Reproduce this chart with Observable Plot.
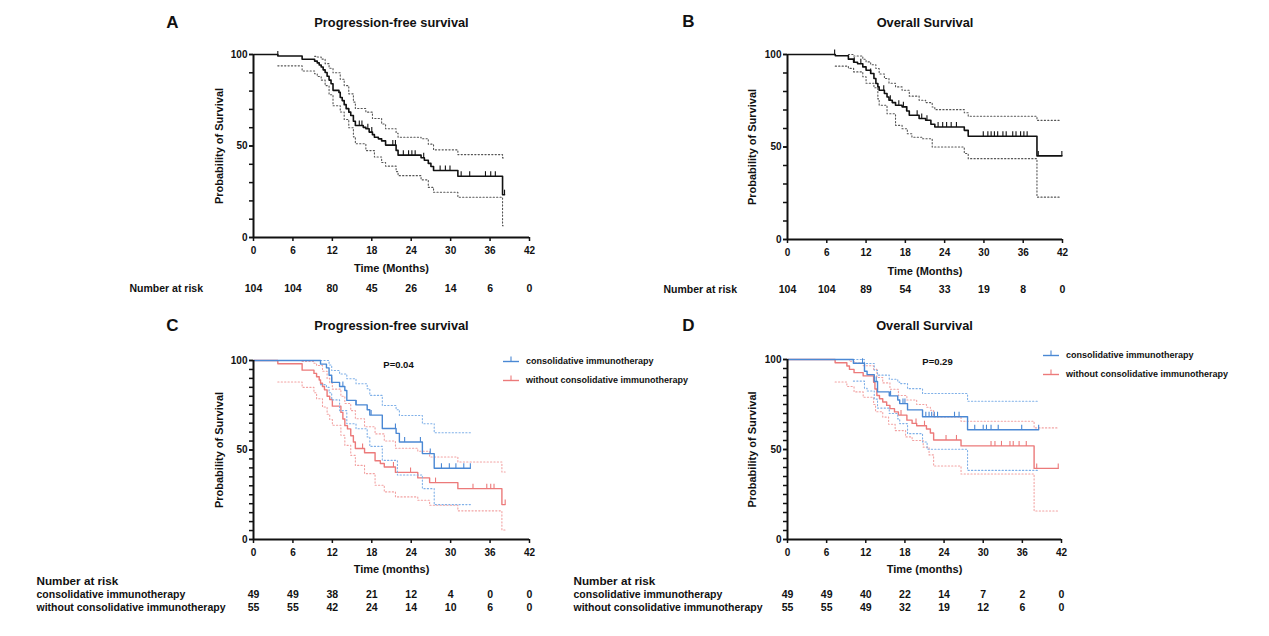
<!DOCTYPE html>
<html><head><meta charset="utf-8">
<script src="https://cdn.jsdelivr.net/npm/d3@7"></script>
<script src="https://cdn.jsdelivr.net/npm/@observablehq/plot@0.6"></script>
<style>
html,body{margin:0;padding:0;background:#fff;overflow:hidden;}
#root{position:relative;width:1269px;height:636px;background:#fff;font-family:"Liberation Sans",Arial,sans-serif;font-weight:bold;color:#111;}
.panel{position:absolute;}
.panel svg{overflow:visible;display:block;}
.lg{position:absolute;height:12px;display:flex;align-items:center;font-size:9px;font-weight:bold;white-space:nowrap;}
.lg span{margin-left:7px;}
</style></head>
<body><div id="root"></div>
<script>
// ---------- axis ticks & number at risk ----------
const months = [0, 6, 12, 18, 24, 30, 36, 42];
const yMajor = [0, 50, 100];
const yMinorAB = [0, 10, 20, 30, 40, 50, 60, 70, 80, 90, 100];
const yMinorCD = [0, 5, 10, 15, 20, 25, 30, 35, 40, 45, 50, 55, 60, 65, 70, 75, 80, 85, 90, 95, 100];
const riskA = [104, 104, 80, 45, 26, 14, 6, 0];
const riskB = [104, 104, 89, 54, 33, 19, 8, 0];
const riskCcon = [49, 49, 38, 21, 12, 4, 0, 0];
const riskCwo = [55, 55, 42, 24, 14, 10, 6, 0];
const riskDcon = [49, 49, 40, 22, 14, 7, 2, 0];
const riskDwo = [55, 55, 49, 32, 19, 12, 6, 0];
const groups = ["consolidative immunotherapy", "without consolidative immunotherapy"];

// ---------- A: PFS, all patients [month, % surviving] ----------
const pfsAll = [[0,100],[3.7,99.2],[7.4,97.4],[9.3,96.4],[9.7,95.4],[10.0,94.3],[10.3,93.2],[10.6,91.6],[10.9,90.2],[11.2,88.1],[11.5,86.0],[11.8,84.0],[12.1,80.4],[13.0,79.3],[13.2,76.5],[13.5,74.8],[13.8,72.6],[14.1,70.4],[14.5,68.5],[14.8,66.7],[15.2,63.5],[15.5,61.2],[16.7,60.2],[17.1,59.4],[17.6,57.6],[18.1,56.2],[18.4,54.8],[19.0,53.9],[19.5,52.8],[20.1,50.5],[21.7,47.6],[22.0,45.0],[25.5,43.6],[26.0,42.2],[26.6,40.5],[27.0,38.8],[27.4,36.6],[31.1,33.5],[37.9,23.4],[38.2,23.4]];
const pfsAllUpper = [[9.3,99],[9.7,98.6],[10.3,97.5],[10.9,95],[11.5,92.5],[12.1,90],[13.2,86.5],[13.8,83],[14.5,78.5],[15.2,74],[15.5,70.5],[17.1,68.5],[18.1,65],[19.5,62],[20.1,59.4],[21.7,57],[22.0,54.8],[25.5,54],[26.6,51],[27.4,47.9],[31.1,45.3],[37.9,43.5],[38.2,43.5]];
const pfsAllLower = [[3.7,93.8],[7.4,91],[9.3,89.5],[9.7,88],[10.3,86],[10.9,83],[11.5,78],[12.1,72],[13.2,68.6],[13.8,64.5],[14.5,60],[15.2,55],[15.5,51.2],[17.1,47.5],[18.4,44],[19.5,41],[20.1,39],[21.7,36],[22.0,33.8],[25.5,31.5],[26.6,27.4],[27.4,24.7],[31.1,22],[37.9,6.4],[38.2,6.4]];
const pfsAllCensor = [3.7, 16.1, 16.5, 17.4, 18.0, 21.2, 21.6, 22.8, 23.6, 24.1, 24.6, 25.9, 28.4, 29.2, 29.9, 31.6, 32.9, 35.3, 36.1, 36.8, 38.2];

// ---------- B: OS, all patients ----------
const osAll = [[0,100],[7.3,99.3],[9.3,97.5],[10.1,95.8],[10.7,95.0],[11.5,93.3],[12.0,91.5],[12.7,89.7],[13.2,87.0],[13.5,84.3],[13.8,82.5],[14.0,80.7],[14.8,78.9],[15.2,77.0],[15.5,75.3],[16.0,74.0],[16.5,72.6],[17.5,71.7],[18.2,69.5],[18.6,67.2],[20.1,65.4],[21.1,64.5],[21.9,62.3],[22.5,60.8],[27.0,59.0],[27.6,55.8],[38.1,45.2],[41.9,45.2]];
const osAllUpper = [[9.3,100],[10.1,99.2],[11.5,97.4],[12.0,96],[12.7,94.5],[13.5,92.4],[14.0,89.5],[14.8,87],[15.5,84.5],[16.5,82.5],[17.5,80.7],[18.6,77.5],[20.1,75.3],[21.1,74],[22.1,71.6],[22.5,70.2],[27.0,68.5],[27.6,66.6],[38.1,64.4],[41.7,64.4]];
const osAllLower = [[7.3,93.7],[9.3,92.5],[10.1,90.6],[11.5,88],[12.0,84.5],[13.2,82],[13.8,76],[14.0,72.6],[15.2,68],[16.5,61.7],[17.5,59.9],[18.3,57.2],[19.0,55.3],[20.6,54.5],[22.1,50],[27.0,46.5],[27.6,43.7],[38.1,22.9],[41.7,22.9]];
const osAllCensor = [7.2, 10.2, 11.2, 12.7, 14.7, 15.7, 17.0, 17.7, 18.2, 19.8, 20.5, 21.3, 23.0, 23.7, 24.3, 25.0, 25.8, 29.9, 30.6, 31.1, 31.6, 32.1, 32.9, 33.4, 34.4, 34.9, 35.6, 36.1, 36.6, 38.3, 41.9];

// ---------- C: PFS by group ----------
const pfsCon = [[0,100],[10.2,98],[11.1,95.9],[11.5,91.8],[11.9,87.8],[13.1,85.5],[13.9,83.2],[14.2,77.7],[15.6,75.2],[17.3,72.5],[17.7,69.5],[19.6,62.0],[21.7,59.3],[22.2,54.5],[25.7,48.0],[27.5,39.8],[33.0,39.8]];
const pfsConUpper = [[10.2,100],[11.5,97.5],[11.9,94.4],[13.1,92.5],[14.2,89.8],[15.6,87],[17.3,84.2],[17.7,80.5],[19.6,74.9],[21.7,72.5],[22.2,69.3],[25.7,64.7],[27.5,59.6],[33.0,59.6]];
const pfsConLower = [[10.2,86.5],[11.1,85],[11.5,82],[11.9,78],[13.1,72],[14.2,64.7],[15.6,61.9],[17.3,57.3],[17.7,52],[19.6,44.2],[21.9,36],[25.7,28.4],[27.5,19.5],[33.0,19.5]];
const pfsConCensor = [11.9, 13.6, 15.6, 17.9, 21.6, 23.0, 25.4, 26.9, 28.6, 29.8, 30.8, 32.0, 33.0];
const pfsWo = [[0,100],[3.7,98.2],[7.4,94.6],[9.2,92.8],[9.6,90.9],[10.0,89.1],[10.2,87.3],[10.5,85.5],[10.8,83.6],[11.2,80.0],[11.6,78.2],[12.0,74.5],[13.3,71.0],[13.6,67.3],[13.9,63.6],[14.3,61.8],[14.8,58.0],[15.2,54.5],[15.5,50.8],[16.9,48.5],[18.5,44.0],[19.3,42.5],[19.9,40.5],[21.6,37.5],[25.0,34.4],[26.8,31.8],[31.1,28.4],[37.8,19.5],[38.3,19.5]];
const pfsWoUpper = [[7.4,99.5],[9.2,98.5],[9.6,97.2],[10.5,94],[11.2,90],[11.6,87.5],[12.0,84],[13.3,80],[13.9,76],[14.8,72],[15.5,67.5],[16.9,63],[18.5,59],[19.9,55],[21.6,51],[25.0,49.3],[26.8,46.1],[31.1,43.3],[37.8,37.7],[38.3,37.7]];
const pfsWoLower = [[3.7,88],[7.4,85],[9.2,82],[9.6,78.6],[10.5,74],[11.2,70],[11.6,67],[12.0,63.8],[13.3,58.2],[13.9,52.6],[14.8,47],[15.5,41.4],[16.9,36.8],[18.5,30.3],[19.9,26.6],[21.6,23.8],[25.0,21.9],[26.8,19.1],[31.1,16],[37.8,5.3],[38.3,5.3]];
const pfsWoCensor = [16.6, 21.3, 23.9, 27.7, 33.4, 35.5, 36.1, 36.6, 38.3];

// ---------- D: OS by group ----------
const osCon = [[0,100],[10.1,97.9],[11.8,93.5],[12.2,91.6],[13.3,87.8],[13.8,82],[15.6,79.8],[16.9,77.5],[17.2,75.5],[18.4,72],[20.7,68.2],[27.6,61],[38.5,61]];
const osConUpper = [[10.1,100],[11.8,97.8],[13.3,94],[13.8,91.3],[15.6,89],[16.9,87.5],[17.2,86.6],[18.4,83.8],[20.7,81.1],[27.6,76.8],[38.5,76.8]];
const osConLower = [[10.1,88],[11.8,84],[12.2,82.5],[13.3,78],[13.8,73],[15.6,70],[16.9,67],[17.2,64.4],[18.4,58.8],[20.7,54.2],[21.4,50.1],[27.6,38.4],[38.5,38.4]];
const osConCensor = [11.5, 13.6, 15.8, 17.7, 18.0, 21.2, 21.7, 22.1, 22.5, 23.0, 25.6, 26.3, 28.7, 30.0, 30.5, 31.2, 32.3, 35.9, 38.5];
const osWo = [[0,100],[7.3,98.2],[9.1,96.4],[9.5,94.5],[10.2,92.7],[11.6,90.9],[13.2,87.3],[13.4,83.6],[13.7,80],[14.1,78.2],[14.6,76.4],[15.2,74.5],[15.7,72.7],[16.4,70.9],[17.0,69.1],[18.3,66.3],[19.1,64.5],[19.8,63.2],[21.3,61.4],[21.9,59.2],[22.4,55.3],[26.6,52],[37.8,39.5],[41.5,39.5]];
const osWoUpper = [[7.3,100],[9.5,99],[10.2,98],[11.6,96.5],[13.2,94.5],[13.7,90],[14.6,87],[15.7,83.5],[17.0,80],[18.3,77.5],[19.8,75],[21.3,73.5],[21.9,71.8],[22.4,68.1],[26.6,65.7],[37.8,62],[41.5,62]];
const osWoLower = [[7.3,87.5],[9.1,85],[10.2,82],[11.6,79],[13.2,75],[13.5,71],[14.6,68],[15.5,64],[16.5,60.5],[18.1,57],[19.1,55],[20.8,51.3],[21.7,47],[22.4,40.8],[26.6,36.4],[37.8,15.8],[41.5,15.8]];
const osWoCensor = [17.4, 19.7, 21.0, 24.3, 25.9, 31.2, 31.8, 32.8, 34.1, 34.6, 35.5, 36.6, 38.2, 41.5];

// ---------- styling ----------
const BLACK = "#111", CI_BLACK = "#555";
const BLUE = "#4a88d4", BLUE_CI = "#7fb0e8";
const RED = "#ec7a7a", RED_CI = "#f2a2a2";
const FONT = '"Liberation Sans", Arial, sans-serif';

function stepAt(curve, t) {
  let v = curve[0][1];
  for (const [x, y] of curve) if (x <= t + 1e-9) v = y;
  return v;
}
const tickUp = {draw(ctx) { ctx.moveTo(0, 0); ctx.lineTo(0, -5); }};

function seriesMarks(s) {
  return [
    Plot.line(s.upper, {x: d => d[0], y: d => d[1], curve: "step-after", stroke: s.ci, strokeWidth: 1.1, strokeDasharray: "1.2,2.2"}),
    Plot.line(s.lower, {x: d => d[0], y: d => d[1], curve: "step-after", stroke: s.ci, strokeWidth: 1.1, strokeDasharray: "1.2,2.2"}),
    Plot.line(s.main, {x: d => d[0], y: d => d[1], curve: "step-after", stroke: s.color, strokeWidth: s.width}),
    Plot.dot(s.censor.map(t => [t, stepAt(s.main, t)]), {x: d => d[0], y: d => d[1], symbol: tickUp, r: 3, fill: "none", stroke: s.color, strokeWidth: 1.1})
  ];
}
function label(txt, o) {
  return Plot.text([txt], {text: d => d, fill: "#111", textAnchor: "middle", lineAnchor: "middle", ...o});
}

function panel(cfg) {
  const marks = [];
  for (const s of cfg.series) marks.push(...seriesMarks(s));
  marks.push(
    Plot.ruleX([0], {stroke: "#111", strokeWidth: 2}),
    Plot.ruleY([0], {stroke: "#111", strokeWidth: 2}),
    Plot.axisX({ticks: months, tickSize: 4, tickPadding: 5, strokeWidth: 1.5, fontSize: 10, fontWeight: "bold", label: null}),
    Plot.axisY({ticks: cfg.minor, tickSize: 4, strokeWidth: 1.5, tickFormat: () => "", label: null}),
    Plot.axisY({ticks: yMajor, tickSize: 4, tickPadding: 2, strokeWidth: 1.5, fontSize: 10, fontWeight: "bold", label: null}),
    label(cfg.letter, {frameAnchor: "top-left", dx: cfg.letterDx, dy: cfg.letterDy, fontSize: 17}),
    label(cfg.title, {frameAnchor: "top", dy: cfg.titleDy, fontSize: 12.8}),
    label("Probability of Survival", {frameAnchor: "left", dx: cfg.yLabelDx, rotate: -90, fontSize: 11}),
    label(cfg.xLabel, {frameAnchor: "bottom", dy: cfg.xLabelDy, fontSize: 11})
  );
  for (const r of cfg.riskRows) {
    marks.push(Plot.text(months.map((m, i) => ({m, n: r.values[i]})), {x: "m", text: "n", frameAnchor: "bottom", lineAnchor: "middle", dy: r.dy, fontSize: 10.5, fill: "#111"}));
    marks.push(label(r.name, {frameAnchor: "bottom-left", dx: cfg.riskDx, dy: r.dy, textAnchor: "start", fontSize: 10.5}));
  }
  if (cfg.riskHeader) marks.push(label("Number at risk", {frameAnchor: "bottom-left", dx: cfg.riskDx, dy: 42, textAnchor: "start", fontSize: 11.7}));
  if (cfg.p) marks.push(label(cfg.p, {frameAnchor: "top-left", dx: cfg.pDx, dy: cfg.pDy, fontSize: 9.5}));

  const svg = Plot.plot({
    width: cfg.width, height: 318,
    marginLeft: cfg.ml, marginRight: cfg.mr, marginTop: cfg.mt, marginBottom: cfg.mb,
    x: {domain: [0, 42]}, y: {domain: [0, 100]},
    style: {fontFamily: FONT, fontWeight: "bold", background: "transparent", overflow: "visible", color: "#111"},
    marks
  });
  const div = document.createElement("div");
  div.className = "panel";
  div.style.left = cfg.left + "px";
  div.style.top = cfg.top + "px";
  div.appendChild(svg);
  document.getElementById("root").appendChild(div);
}

// A
panel({left: 0, top: 0, width: 634, ml: 253, mr: 105, mt: 54, mb: 81, minor: yMinorAB,
  letter: "A", letterDx: -81, letterDy: -32, title: "Progression-free survival", titleDy: -32,
  yLabelDx: -34, xLabel: "Time (Months)", xLabelDy: 31, riskDx: -124,
  riskRows: [{name: "Number at risk", values: riskA, dy: 51}],
  series: [{main: pfsAll, upper: pfsAllUpper, lower: pfsAllLower, censor: pfsAllCensor, color: BLACK, ci: CI_BLACK, width: 1.6}]});
// B
panel({left: 634, top: 0, width: 635, ml: 153, mr: 207, mt: 54, mb: 79, minor: yMinorAB,
  letter: "B", letterDx: -99, letterDy: -33, title: "Overall Survival", titleDy: -32,
  yLabelDx: -35, xLabel: "Time (Months)", xLabelDy: 32, riskDx: -124,
  riskRows: [{name: "Number at risk", values: riskB, dy: 50}],
  series: [{main: osAll, upper: osAllUpper, lower: osAllLower, censor: osAllCensor, color: BLACK, ci: CI_BLACK, width: 1.6}]});
// C
panel({left: 0, top: 318, width: 560, ml: 253, mr: 31, mt: 42, mb: 97, minor: yMinorCD,
  letter: "C", letterDx: -81, letterDy: -35, title: "Progression-free survival", titleDy: -35,
  yLabelDx: -34, xLabel: "Time (months)", xLabelDy: 30, riskDx: -217, riskHeader: true,
  riskRows: [{name: groups[0], values: riskCcon, dy: 55}, {name: groups[1], values: riskCwo, dy: 68}],
  p: "P=0.04", pDx: 145, pDy: 4,
  series: [
    {main: pfsWo, upper: pfsWoUpper, lower: pfsWoLower, censor: pfsWoCensor, color: RED, ci: RED_CI, width: 1.4},
    {main: pfsCon, upper: pfsConUpper, lower: pfsConLower, censor: pfsConCensor, color: BLUE, ci: BLUE_CI, width: 1.4}
  ]});
// D
panel({left: 560, top: 318, width: 709, ml: 227, mr: 208, mt: 41, mb: 97, minor: yMinorCD,
  letter: "D", letterDx: -99, letterDy: -34, title: "Overall Survival", titleDy: -34,
  yLabelDx: -35, xLabel: "Time (months)", xLabelDy: 30, riskDx: -214, riskHeader: true,
  riskRows: [{name: groups[0], values: riskDcon, dy: 55}, {name: groups[1], values: riskDwo, dy: 68}],
  p: "P=0.29", pDx: 150, pDy: 2,
  series: [
    {main: osWo, upper: osWoUpper, lower: osWoLower, censor: osWoCensor, color: RED, ci: RED_CI, width: 1.4},
    {main: osCon, upper: osConUpper, lower: osConLower, censor: osConCensor, color: BLUE, ci: BLUE_CI, width: 1.4}
  ]});

// legends
function legendRow(left, top, color, text) {
  const d = document.createElement("div");
  d.className = "lg";
  d.style.left = left + "px";
  d.style.top = (top - 6) + "px";
  d.innerHTML = `<svg width="16" height="12"><line x1="0" y1="6.5" x2="16" y2="6.5" stroke="${color}" stroke-width="1.4"/><line x1="8" y1="6.5" x2="8" y2="1.5" stroke="${color}" stroke-width="1.1"/></svg><span>${text}</span>`;
  document.getElementById("root").appendChild(d);
}
legendRow(503, 361, BLUE, groups[0]);
legendRow(503, 379.5, RED, groups[1]);
legendRow(1043, 355, BLUE, groups[0]);
legendRow(1043, 373.5, RED, groups[1]);
</script>
</body></html>
